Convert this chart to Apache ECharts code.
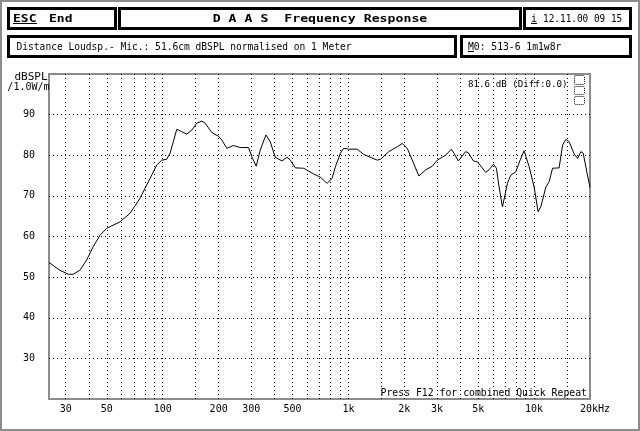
<!DOCTYPE html>
<html><head><meta charset="utf-8">
<script src="https://cdn.jsdelivr.net/npm/echarts@6/dist/echarts.min.js"></script>
<style>html,body{margin:0;padding:0;background:#fff}#c{width:640px;height:431px}</style>
</head><body><div id="c"></div>
<script>
// ---- data ----
const FREQ_HZ = [24.4,27.9,31.0,32.9,35.8,38.9,42.2,45.9,49.9,58.8,66.6,75.4,85.4,92.8,98.8,105,109.5,119,126.6,134.7,143.4,152.6,162.3,169.1,183.8,199.5,208.2,221.5,240.4,261.3,289.7,302,318.8,335,359.6,379.3,403.6,438.7,467,486.4,517.6,574,649.8,706.3,767.4,816.6,851,905.5,943.3,1004,1114,1209,1429,1489,1651,1832,1950,2075,2395,2604,2830,3011,3338,3583,3701,3908,4280,4426,4710,4948,5484,5715,6039,6268,6475,6753,6887,7185,7483,7965,8406,8831,9020,9400,10000,10510,10870,11570,12050,12570,12830,13640,14230,14830,15450,16440,17150,17870,18380,19420,20000];
const SPL_DB = [53.6,51.7,50.7,50.7,51.7,54.2,57.5,60.3,62.0,63.6,65.7,69.4,74.3,77.6,78.8,79.0,80.5,86.4,85.8,85.2,86.2,87.9,88.4,87.9,85.6,84.7,83.7,81.7,82.4,81.9,81.9,79.6,77.3,81.3,85.0,83.3,79.5,78.6,79.5,78.8,76.9,76.8,75.4,74.6,73.1,74.3,77.2,80.5,81.7,81.5,81.5,80.2,78.8,79.0,80.9,82.1,82.9,81.7,74.9,76.4,77.3,78.8,80.0,81.5,80.5,78.6,80.9,80.6,78.6,78.4,75.8,76.4,77.8,76.8,72.2,67.3,67.5,73.1,75.1,75.9,78.8,81.1,81.1,77.2,72.2,66.1,67.3,72.2,73.5,76.8,77.2,76.9,82.5,83.9,83.3,80.3,79.2,80.9,80.5,74.9,72.1];
const X_GRID_FREQS = [30,40,50,60,70,80,90,100,150,200,300,400,500,600,700,800,900,1000,1500,2000,3000,4000,5000,6000,7000,8000,9000,10000,15000];
const X_LABEL_FREQS = [30,50,100,200,300,500,1000,2000,3000,5000,10000,20000];
const X_LABEL_TEXT = ['30','50','100','200','300','500','1k','2k','3k','5k','10k','20kHz'];
const X_MIN_HZ = 24.4, X_MAX_HZ = 20000;
const Y_MIN = 20, Y_MAX = 100, Y_STEP = 10;
const Y_LABELS = [30,40,50,60,70,80,90];

const MONO = 'DejaVu Sans Mono';
const lg = Math.log10;

function txt(text, x, y, o) {
  o = o || {};
  return {
    type: 'text', x: x, y: y, scaleX: o.sx || 1, silent: true, z: 100,
    style: {
      text: text, x: 0, y: 0,
      fontFamily: MONO, fontSize: o.size || 10, fontWeight: o.bold ? 'bold' : 'normal',
      fill: '#000', textAlign: o.align || 'left', textVerticalAlign: o.va || 'middle'
    }
  };
}
function box(x, y, w, h) {
  return { type: 'rect', silent: true, z: 100, shape: { x: x, y: y, width: w, height: h },
    style: { fill: 'none', stroke: '#000', lineWidth: 3 } };
}
function hline(x1, x2, y, w) {
  return { type: 'line', silent: true, z: 100, shape: { x1: x1, y1: y, x2: x2, y2: y },
    style: { stroke: '#000', lineWidth: w || 1 } };
}
function dotRect(x, y, w, h) {
  return { type: 'rect', silent: true, z: 100, shape: { x: x, y: y, width: w, height: h, r: 1 },
    style: { fill: 'none', stroke: '#000', lineWidth: 1, lineDash: [1, 1] } };
}

const chart = echarts.init(document.getElementById('c'), null, { renderer: 'canvas' });
chart.setOption({
  animation: false,
  backgroundColor: '#fff',
  grid: { left: 49, top: 74, width: 541, height: 325, show: true, borderColor: '#8c8c8c', borderWidth: 2, containLabel: false },
  xAxis: {
    type: 'value', min: lg(X_MIN_HZ), max: lg(X_MAX_HZ),
    axisLine: { show: false },
    axisTick: { show: false, customValues: X_GRID_FREQS.map(lg) },
    splitLine: { show: true, lineStyle: { color: '#000', width: 1, type: [1, 3] } },
    axisLabel: {
      customValues: X_LABEL_FREQS.map(lg), margin: 5,
      fontFamily: MONO, fontSize: 10, color: '#000',
      formatter: function (v) {
        let i = X_LABEL_FREQS.findIndex(f => Math.abs(lg(f) - v) < 1e-6);
        if (i < 0) return '';
        return i === X_LABEL_FREQS.length - 1 ? '{r|' + X_LABEL_TEXT[i] + '}' : X_LABEL_TEXT[i];
      },
      rich: { r: { padding: [0, 0, 0, 10], fontFamily: MONO, fontSize: 10, color: '#000' } }
    }
  },
  yAxis: {
    type: 'value', min: Y_MIN, max: Y_MAX, interval: Y_STEP,
    axisLine: { show: false }, axisTick: { show: false },
    splitLine: { show: true, showMinLine: false, showMaxLine: false, lineStyle: { color: '#000', width: 1, type: [1, 3] } },
    axisLabel: {
      margin: 14, fontFamily: MONO, fontSize: 10, color: '#000',
      formatter: v => Y_LABELS.indexOf(v) >= 0 ? String(v) : ''
    }
  },
  series: [{
    type: 'line', showSymbol: false, symbol: 'none', smooth: false,
    lineStyle: { color: '#000', width: 1 },
    data: FREQ_HZ.map((f, i) => [lg(f), SPL_DB[i]]),
    z: 10
  }],
  graphic: [
    { type: 'rect', silent: true, z: 100, shape: { x: 1, y: 1, width: 638, height: 429 }, style: { fill: 'none', stroke: '#8c8c8c', lineWidth: 2 } },
    box(8.5, 8.5, 107, 20), box(119.5, 8.5, 401, 20), box(524.5, 8.5, 106, 20),
    box(8.5, 36.5, 447, 20), box(461.5, 36.5, 169, 20),
    txt('ESC', 13, 19, { bold: true, size: 11, sx: 1.18 }), hline(13, 37, 23.5, 1),
    txt('End', 49, 19, { bold: true, size: 11, sx: 1.18 }),
    txt('D A A S  Frequency Response', 320, 19, { bold: true, size: 11, sx: 1.2, align: 'center' }),
    txt('i', 531, 19, { size: 10 }), hline(531, 537, 23.5, 1),
    txt('12.11.00 09 15', 543, 19, { size: 10, sx: 0.94 }),
    txt('Distance Loudsp.- Mic.: 51.6cm dBSPL normalised on 1 Meter', 16.5, 47, { size: 9.6 }),
    txt('M0: 513-6 1m1w8r', 468, 47, { size: 9.7 }), hline(468, 474, 51.5, 1),
    txt('dBSPL', 47.5, 77, { size: 11, align: 'right' }),
    txt('/1.0W/m', 49.5, 87, { size: 10, align: 'right' }),
    txt('81.6 dB (Diff:0.0)', 468, 85, { size: 9.2 }),
    dotRect(574.5, 75.5, 10, 9), dotRect(574.5, 86.5, 10, 8), dotRect(574.5, 96.5, 10, 8),
    txt('Press F12 for combined Quick Repeat', 587, 398, { size: 9.8, align: 'right', va: 'bottom' })
  ]
});
</script></body></html>
